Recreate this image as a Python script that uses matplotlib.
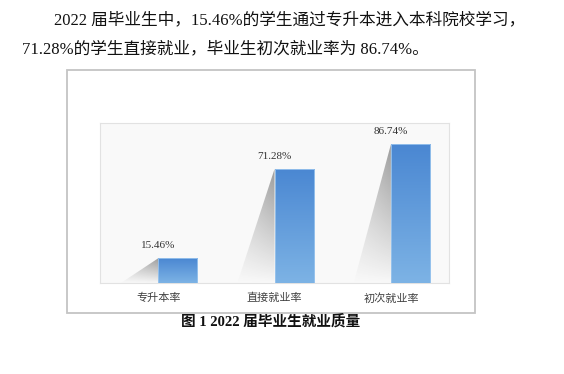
import numpy as np
import matplotlib
matplotlib.use('Agg')
import matplotlib.pyplot as plt
from matplotlib.patches import Polygon, Rectangle
from matplotlib.colors import LinearSegmentedColormap

plt.rcParams['font.family'] = ['Liberation Serif', 'Noto Sans CJK SC', 'DejaVu Sans']

# данные
categories = ['专升本率', '直接就业率', '初次就业率']
values = [15.46, 71.28, 86.74]
value_labels = ['15.46%', '71.28%', '86.74%']

fig = plt.figure(figsize=(5.64, 3.74), dpi=100)
fig.patch.set_facecolor('white')

# текст над графиком
fig.text(0.096, 0.947, '2022 届毕业生中，15.46%的学生通过专升本进入本科院校学习，',
         fontsize=12, color='#111111', va='center', ha='left')
fig.text(0.039, 0.868, '71.28%的学生直接就业，毕业生初次就业率为 86.74%。',
         fontsize=12, color='#111111', va='center', ha='left')

# внешняя рамка
fig.patches.append(Rectangle((0.1188, 0.1631), 0.7234, 0.6497, transform=fig.transFigure,
                             facecolor='white', edgecolor='#c4c4c4', linewidth=1.3, zorder=-5))

ax = fig.add_axes([0.1773, 0.2433, 0.619, 0.4278])
ax.set_zorder(2)
ax.set_facecolor('#f9f9f9')
for s in ax.spines.values():
    s.set_color('#e2e2e2')
    s.set_linewidth(0.8)

x = np.arange(len(categories))
bar_w = 0.336
shadow_w = 0.32

bar_cmap = LinearSegmentedColormap.from_list('bar', ['#7db3e5', '#4a87d2'])
grad = np.linspace(0, 1, 256).reshape(-1, 1)

# тень (серый градиент)
sh = np.zeros((256, 64, 4))
yy = np.linspace(0, 1, 256).reshape(-1, 1)
xx = np.linspace(0, 1, 64).reshape(1, -1)
sh[..., :3] = 0.42
sh[..., 3] = 0.66 * yy ** 0.9 * (0.5 + 0.5 * xx)

bars = ax.bar(x, values, width=bar_w, align='edge', color='none', edgecolor='none', zorder=3)
for xi, v, b in zip(x, values, bars):
    tri = Polygon([[xi, v], [xi - shadow_w, 0], [xi, 0]], closed=True,
                  facecolor='none', edgecolor='none')
    ax.add_patch(tri)
    im = ax.imshow(sh, extent=(xi - shadow_w, xi, 0, v), origin='lower',
                   aspect='auto', zorder=2, interpolation='bilinear')
    im.set_clip_path(tri)
    im2 = ax.imshow(grad, extent=(xi, xi + bar_w, 0, v), origin='lower',
                    cmap=bar_cmap, aspect='auto', zorder=3, interpolation='bilinear')
    im2.set_clip_path(b)
    ax.add_patch(Rectangle((xi, 0), bar_w, v, facecolor='none',
                           edgecolor='#9cc6ee', linewidth=0.6, zorder=4))

for xi, v, lab in zip(x, values, value_labels):
    ax.text(xi, v + 5, lab, ha='center', va='bottom', fontsize=8, color='#333333')

ax.set_xlim(-0.5, 2.5)
ax.set_ylim(0, 100)
ax.set_yticks([])
ax.set_xticks(x)
ax.set_xticklabels(categories, fontsize=8, color='#404040')
ax.tick_params(axis='x', length=0, pad=7)

# подпись рисунка
fig.text(0.479, 0.139, '图 1 2022 届毕业生就业质量', fontsize=10.5, fontweight='bold',
         color='#111111', ha='center', va='center')

fig.savefig('out.png', dpi=100)
